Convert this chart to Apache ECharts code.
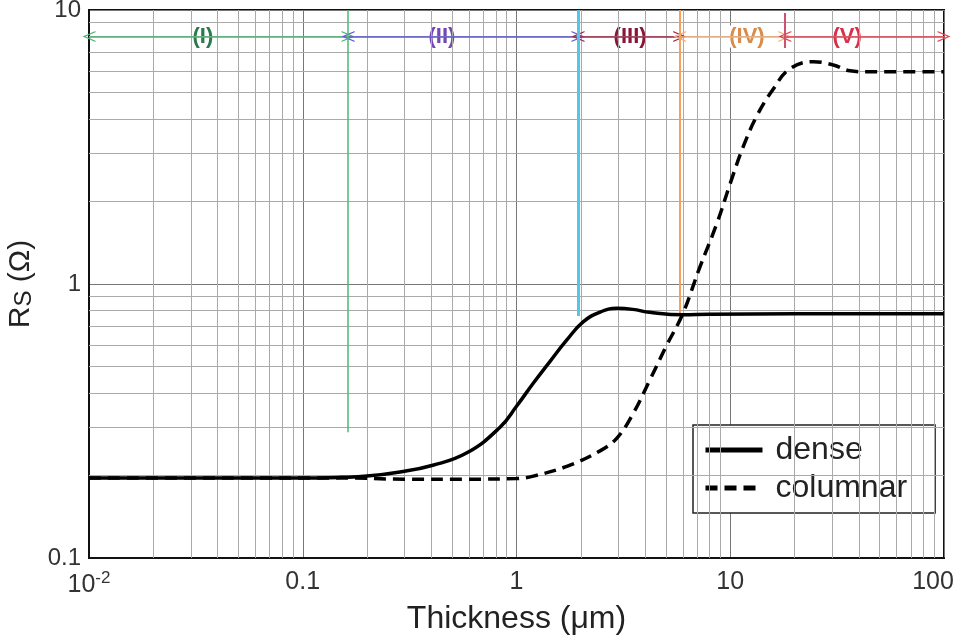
<!DOCTYPE html>
<html>
<head>
<meta charset="utf-8">
<script src="https://cdn.jsdelivr.net/npm/echarts@6/dist/echarts.min.js"></script>
<style>
  html, body { margin: 0; padding: 0; background: #fff; }
  #chart { width: 959px; height: 640px; }
</style>
</head>
<body>
<div id="chart"></div>
<script>
// curves: [thickness (um), Rs (ohm)]
const denseData = [
  [0.01, 0.196], [0.05, 0.196], [0.1, 0.196], [0.15, 0.197], [0.2, 0.199],
  [0.285, 0.206], [0.406, 0.218], [0.586, 0.242], [0.837, 0.30], [1.0, 0.358],
  [1.2, 0.435], [1.43, 0.52], [1.72, 0.625], [2.05, 0.727], [2.46, 0.79],
  [2.95, 0.815], [3.5, 0.808], [4.2, 0.788], [6.0, 0.772], [8.0, 0.776],
  [20, 0.778], [100, 0.778]
]
const columnarData = [
  [0.01, 0.196], [0.15, 0.196], [0.3, 0.194], [0.6, 0.194], [1.0, 0.195],
  [1.2, 0.199], [1.72, 0.216], [2.46, 0.246], [2.95, 0.274], [3.5, 0.335],
  [4.2, 0.445], [5.0, 0.59], [6.0, 0.78], [7.2, 1.15], [8.65, 1.66],
  [10, 2.33], [11.5, 3.17], [13.3, 4.1], [15.9, 5.15], [19, 6.1],
  [24.5, 6.48], [30.4, 6.3], [36.3, 6.0], [43.5, 5.95], [100, 5.95]
]

const xTickLabels = ['10{sup|-2}', '0.1', '1', '10', '{last|100}']
const yTickLabels = ['0.1', '1', '10']
const xDecades = [0.01, 0.1, 1, 10]
const yDecades = [0.1, 1]
const minorSteps = [2, 3, 4, 5, 6, 7, 8, 9]

// regime boundaries and arrows
const regionNames = ['(I)', '(II)', '(III)', '(IV)', '(V)']
const regionEdges = [0.01, 0.163, 1.94, 5.8, 18, 100]
const regionLabelX = [0.0341, 0.448, 3.4, 11.97, 35.2]
const arrowY = 8.0
const lineColors = ['#4cb374', '#5a5ad2', '#a02848', '#f5b077', '#e8404f']
const labelColors = ['#2b7a4b', '#7448b0', '#8b1538', '#d88c4a', '#d8304a']
const boundaryX = [0.163, 1.94, 5.8, 18]
const boundaryBottom = [0.288, 0.764, 0.77, 7.27]
const boundaryColors = ['#4cb878', '#4fc8ea', '#f5a060', '#d05070']
const boundaryWidths = [1.5, 3, 2, 2]

const xMinor = []
xDecades.forEach(d => minorSteps.forEach(k => xMinor.push(d * k)))
const yMinor = []
yDecades.forEach(d => minorSteps.forEach(k => yMinor.push(d * k)))

const chevron = 'path://M0,10 L5,0 L10,10 L8.8,10 L5,2.4 L1.2,10 Z'

const chart = echarts.init(document.getElementById('chart'))

const gridLines = [
  ...xMinor.map(v => ({ xAxis: v })),
  ...yMinor.map(v => ({ yAxis: v }))
]

const arrowLines = regionNames.map((n, i) => ({
  coords: [[regionEdges[i], arrowY], [regionEdges[i + 1], arrowY]],
  lineStyle: { color: lineColors[i], width: 1.5, type: 'solid' }
}))

const boundaryLines = boundaryX.map((x, i) => ({
  coords: [[x, i === 3 ? 9.75 : 10], [x, boundaryBottom[i]]],
  lineStyle: { color: boundaryColors[i], width: boundaryWidths[i], type: 'solid' }
}))

const option = {
  animation: false,
  grid: {
    left: 89, right: 15, top: 10, bottom: 82,
    outerBoundsMode: 'none',
    show: true, borderColor: '#111', borderWidth: 2
  },
  xAxis: {
    type: 'log',
    logBase: 10,
    min: 0.01,
    max: 100,
    name: 'Thickness (\u03bcm)',
    nameLocation: 'middle',
    nameGap: 40,
    nameTextStyle: { fontFamily: 'Liberation Sans', fontSize: 32, color: '#222' },
    axisLine: { lineStyle: { color: '#111', width: 2 } },
    axisTick: { show: false },
    splitLine: { show: true, lineStyle: { color: '#777', width: 1 } },
    axisLabel: {
      fontFamily: 'Liberation Sans',
      fontSize: 25,
      color: '#333',
      margin: 12,
      formatter: (v, i) => xTickLabels[i],
      rich: {
        sup: { fontFamily: 'Liberation Sans', fontSize: 17, color: '#333', padding: [0, 0, 14, 0] },
        last: { fontFamily: 'Liberation Sans', fontSize: 25, color: '#333', padding: [0, 22, 0, 0] }
      }
    }
  },
  yAxis: {
    type: 'log',
    logBase: 10,
    min: 0.1,
    max: 10,
    name: 'R{sub|S} (\u03a9)',
    nameLocation: 'middle',
    nameRotate: 90,
    nameGap: 40,
    nameTextStyle: {
      fontFamily: 'Liberation Sans', fontSize: 30, color: '#222',
      rich: {
        sub: { fontFamily: 'Liberation Sans', fontSize: 24, color: '#222', padding: [8, 0, 0, 0] }
      }
    },
    axisLine: { lineStyle: { color: '#111', width: 2 } },
    axisTick: { show: false },
    splitLine: { show: true, lineStyle: { color: '#777', width: 1 } },
    axisLabel: {
      fontFamily: 'Liberation Sans',
      fontSize: 24,
      color: '#333',
      margin: 8,
      formatter: (v, i) => yTickLabels[i]
    }
  },
  legend: {
    orient: 'vertical',
    left: 693,
    top: 425,
    padding: [8, 28, 8, 10],
    itemGap: 4,
    itemWidth: 57,
    itemHeight: 14,
    backgroundColor: '#fff',
    borderColor: '#222',
    borderWidth: 1.5,
    borderRadius: 0,
    itemStyle: { color: 'rgba(0,0,0,0)', borderColor: 'rgba(0,0,0,0)', borderWidth: 0 },
    lineStyle: { width: 5 },
    textStyle: { fontFamily: 'Liberation Sans', fontSize: 32, color: '#222', lineHeight: 34, padding: [0, 0, 0, 8] },
    data: ['dense', 'columnar']
  },
  series: [
    {
      name: 'grid',
      type: 'line',
      data: [],
      silent: true,
      markLine: {
        silent: true,
        symbol: 'none',
        label: { show: false },
        lineStyle: { color: '#aaa', width: 1, type: 'solid' },
        data: gridLines
      }
    },
    {
      name: 'regions',
      type: 'line',
      data: [],
      silent: true,
      markLine: {
        silent: true,
        symbol: [chevron, chevron],
        symbolSize: [11, 13],
        label: { show: false },
        data: arrowLines.map(d => [
          { coord: d.coords[0], lineStyle: d.lineStyle, itemStyle: { color: d.lineStyle.color } },
          { coord: d.coords[1] }
        ])
      }
    },
    {
      name: 'bounds',
      type: 'line',
      data: [],
      silent: true,
      markLine: {
        silent: true,
        symbol: 'none',
        label: { show: false },
        data: boundaryLines.map(d => [
          { coord: d.coords[0], lineStyle: d.lineStyle },
          { coord: d.coords[1] }
        ])
      }
    },
    {
      name: 'labels',
      type: 'scatter',
      silent: true,
      symbolSize: 1,
      itemStyle: { color: '#fff', opacity: 1 },
      data: regionNames.map((n, i) => ({
        value: [regionLabelX[i], arrowY],
        label: {
          show: true,
          position: 'inside',
          formatter: n,
          fontFamily: 'Liberation Sans',
          fontWeight: 'bold',
          fontSize: 22,
          color: labelColors[i],
          textBorderWidth: 0,
          opacity: 1,
          backgroundColor: '#fff',
          padding: [0, 2]
        }
      }))
    },
    {
      name: 'columnar',
      type: 'line',
      smooth: 0.4,
      symbol: 'none',
      lineStyle: { color: '#000', width: 3.5, type: [12, 7] },
      itemStyle: { color: '#000' },
      data: columnarData,
      z: 5
    },
    {
      name: 'dense',
      type: 'line',
      smooth: 0.45,
      symbol: 'none',
      lineStyle: { color: '#000', width: 3.5 },
      itemStyle: { color: '#000' },
      data: denseData,
      z: 6
    }
  ]
}

chart.setOption(option)
</script>
</body>
</html>
